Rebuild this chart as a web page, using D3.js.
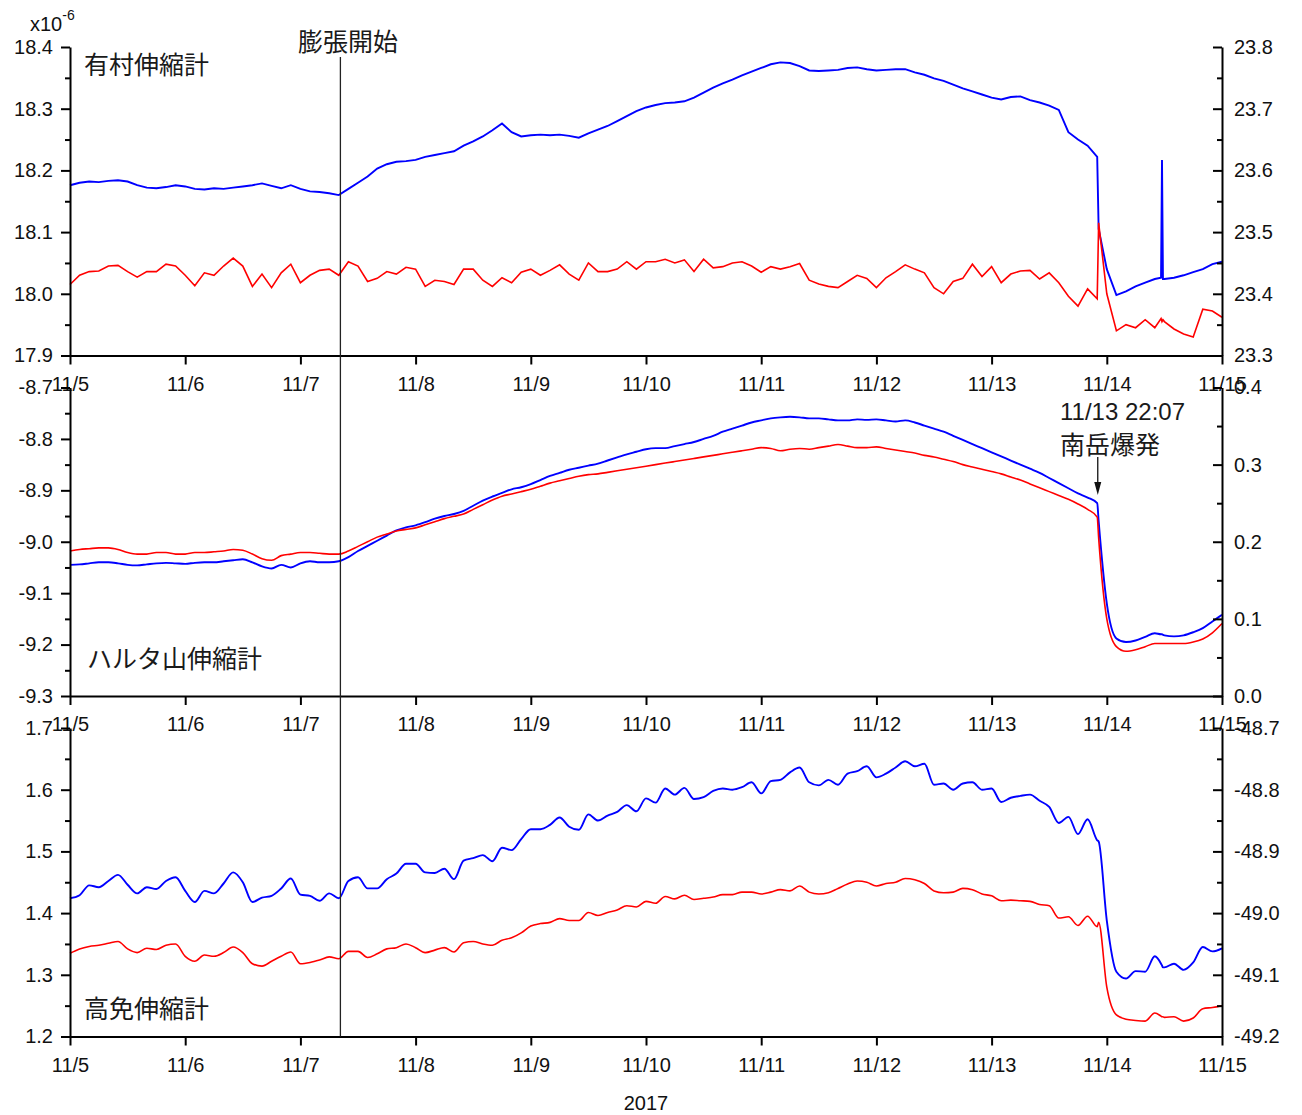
<!DOCTYPE html>
<html>
<head>
<meta charset="utf-8">
<script src="https://cdn.jsdelivr.net/npm/d3@7"></script>
<style>
  body { margin: 0; background: #fff; }
  .jp { font-family: "Noto Sans CJK JP", sans-serif; }
</style>
</head>
<body>
<svg id="chart" width="1302" height="1115"></svg>
<script>
// sample times, hours after 2017-11-05 00:00 (2 h steps, a few extra samples at the events)
const hours = [].concat(d3.range(0, 215, 2), [214.3], d3.range(216, 227, 2), [227.3, 227.5, 227.7], d3.range(228, 241, 2));

const dayLabels = ['11/5', '11/6', '11/7', '11/8', '11/9', '11/10', '11/11', '11/12', '11/13', '11/14', '11/15'];

// 有村伸縮計
const arimuraBlue = [
  18.176, 18.180, 18.182, 18.181, 18.183, 18.184, 18.182, 18.176, 18.172, 18.171,
  18.173, 18.176, 18.174, 18.170, 18.169, 18.171, 18.170, 18.172, 18.174, 18.176,
  18.179, 18.175, 18.171, 18.176, 18.170, 18.166, 18.165, 18.163, 18.160, 18.170,
  18.180, 18.190, 18.203, 18.210, 18.214, 18.215, 18.217, 18.222, 18.225, 18.228,
  18.231, 18.240, 18.247, 18.255, 18.265, 18.276, 18.262, 18.255, 18.257, 18.258,
  18.257, 18.258, 18.256, 18.253, 18.260, 18.266, 18.272, 18.280, 18.288, 18.296,
  18.302, 18.306, 18.309, 18.310, 18.312, 18.318, 18.326, 18.334, 18.341, 18.347,
  18.354, 18.360, 18.366, 18.372, 18.375, 18.374, 18.369, 18.362, 18.361, 18.362,
  18.363, 18.366, 18.367, 18.364, 18.362, 18.363, 18.364, 18.364, 18.359, 18.355,
  18.349, 18.345, 18.339, 18.333, 18.328, 18.323, 18.318, 18.315, 18.319, 18.320,
  18.314, 18.310, 18.305, 18.298, 18.262, 18.250, 18.240, 18.222,
  18.105,
  18.040, 17.998, 18.004, 18.012, 18.018, 18.024,
  18.026, 18.217, 18.024,
  18.024, 18.026, 18.030, 18.035, 18.040, 18.048, 18.052
];
const arimuraRed = [
  23.415, 23.430, 23.436, 23.437, 23.445, 23.446, 23.436, 23.427, 23.436, 23.436,
  23.448, 23.445, 23.430, 23.413, 23.434, 23.430, 23.445, 23.458, 23.445, 23.412,
  23.432, 23.410, 23.434, 23.448, 23.418, 23.430, 23.438, 23.440, 23.430, 23.452,
  23.445, 23.420, 23.425, 23.436, 23.432, 23.443, 23.440, 23.412, 23.422, 23.420,
  23.415, 23.440, 23.440, 23.422, 23.412, 23.426, 23.418, 23.435, 23.440, 23.430,
  23.438, 23.447, 23.432, 23.422, 23.450, 23.436, 23.436, 23.440, 23.452, 23.440,
  23.452, 23.452, 23.456, 23.450, 23.455, 23.436, 23.456, 23.442, 23.444, 23.450,
  23.452, 23.445, 23.435, 23.444, 23.440, 23.444, 23.449, 23.422, 23.416, 23.412,
  23.410, 23.420, 23.430, 23.425, 23.410, 23.426, 23.436, 23.447, 23.440, 23.434,
  23.410, 23.400, 23.420, 23.425, 23.448, 23.428, 23.444, 23.418, 23.432, 23.437,
  23.438, 23.424, 23.434, 23.418, 23.396, 23.380, 23.408, 23.392,
  23.515,
  23.400, 23.340, 23.350, 23.345, 23.358, 23.345,
  23.360, 23.355, 23.358,
  23.355, 23.343, 23.335, 23.330, 23.375, 23.372, 23.362
];

// ハルタ山伸縮計
const harutaBlue = [
  -9.045, -9.044, -9.042, -9.040, -9.040, -9.042, -9.045, -9.046, -9.044, -9.042,
  -9.041, -9.042, -9.043, -9.041, -9.040, -9.040, -9.038, -9.036, -9.034, -9.040,
  -9.048, -9.052, -9.045, -9.050, -9.042, -9.038, -9.040, -9.040, -9.038, -9.030,
  -9.018, -9.008, -8.998, -8.988, -8.978, -8.972, -8.968, -8.962, -8.955, -8.950,
  -8.946, -8.940, -8.930, -8.920, -8.912, -8.905, -8.898, -8.894, -8.888, -8.880,
  -8.872, -8.866, -8.860, -8.856, -8.852, -8.848, -8.842, -8.836, -8.830, -8.825,
  -8.820, -8.818, -8.818, -8.814, -8.810, -8.806, -8.800, -8.794, -8.786, -8.780,
  -8.774, -8.768, -8.764, -8.760, -8.758, -8.757, -8.758, -8.760, -8.760, -8.762,
  -8.764, -8.764, -8.762, -8.763, -8.762, -8.764, -8.766, -8.764, -8.768, -8.774,
  -8.780, -8.786, -8.794, -8.802, -8.810, -8.818, -8.826, -8.834, -8.842, -8.850,
  -8.858, -8.866, -8.876, -8.886, -8.896, -8.906, -8.914, -8.925,
  -8.960,
  -9.120, -9.188, -9.195, -9.192, -9.185, -9.178,
  -9.180, -9.180, -9.181,
  -9.182, -9.184, -9.182, -9.176, -9.168, -9.155, -9.142
];
const harutaRed = [
  0.188, 0.190, 0.191, 0.192, 0.192, 0.190, 0.186, 0.184, 0.184, 0.186,
  0.186, 0.184, 0.184, 0.186, 0.186, 0.187, 0.188, 0.190, 0.189, 0.184,
  0.178, 0.176, 0.182, 0.184, 0.186, 0.186, 0.185, 0.184, 0.184, 0.188,
  0.194, 0.200, 0.206, 0.210, 0.214, 0.216, 0.218, 0.222, 0.226, 0.230,
  0.233, 0.236, 0.242, 0.248, 0.254, 0.259, 0.262, 0.265, 0.268, 0.272,
  0.276, 0.279, 0.282, 0.285, 0.287, 0.288, 0.290, 0.292, 0.294, 0.296,
  0.298, 0.300, 0.302, 0.304, 0.306, 0.308, 0.310, 0.312, 0.314, 0.316,
  0.318, 0.320, 0.322, 0.321, 0.318, 0.320, 0.321, 0.320, 0.322, 0.324,
  0.326, 0.324, 0.322, 0.322, 0.323, 0.321, 0.319, 0.317, 0.315, 0.312,
  0.310, 0.307, 0.304, 0.300, 0.297, 0.294, 0.291, 0.288, 0.284, 0.280,
  0.275, 0.270, 0.265, 0.260, 0.255, 0.249, 0.242, 0.232,
  0.205,
  0.100, 0.064, 0.058, 0.060, 0.064, 0.068,
  0.068, 0.068, 0.068,
  0.068, 0.068, 0.068, 0.070, 0.074, 0.082, 0.094
];

// 高免伸縮計
const kominBlue = [
  1.424, 1.429, 1.445, 1.442, 1.452, 1.462, 1.446, 1.432, 1.442, 1.439,
  1.452, 1.458, 1.436, 1.418, 1.436, 1.432, 1.448, 1.466, 1.450, 1.418,
  1.425, 1.428, 1.440, 1.456, 1.430, 1.428, 1.420, 1.432, 1.424, 1.452,
  1.458, 1.440, 1.440, 1.455, 1.464, 1.480, 1.480, 1.466, 1.465, 1.472,
  1.455, 1.485, 1.489, 1.494, 1.484, 1.506, 1.502, 1.520, 1.536, 1.536,
  1.543, 1.555, 1.540, 1.535, 1.560, 1.550, 1.558, 1.564, 1.575, 1.565,
  1.586, 1.579, 1.602, 1.592, 1.603, 1.585, 1.588, 1.598, 1.602, 1.600,
  1.604, 1.612, 1.594, 1.614, 1.616, 1.628, 1.636, 1.612, 1.607, 1.616,
  1.608, 1.626, 1.630, 1.638, 1.620, 1.626, 1.636, 1.646, 1.638, 1.642,
  1.608, 1.610, 1.600, 1.610, 1.612, 1.600, 1.602, 1.580, 1.587, 1.590,
  1.592, 1.582, 1.572, 1.546, 1.556, 1.528, 1.552, 1.518,
  1.516,
  1.388, 1.305, 1.294, 1.306, 1.305, 1.330,
  1.318, 1.315, 1.312,
  1.312, 1.318, 1.308, 1.320, 1.345, 1.338, 1.343
];
const kominRed = [
  -49.065, -49.058, -49.054, -49.052, -49.049, -49.046, -49.058, -49.064, -49.057, -49.059,
  -49.052, -49.050, -49.070, -49.078, -49.068, -49.070, -49.064, -49.055, -49.064, -49.082,
  -49.086, -49.078, -49.070, -49.063, -49.082, -49.080, -49.076, -49.071, -49.074, -49.062,
  -49.062, -49.072, -49.066, -49.058, -49.056, -49.050, -49.056, -49.064, -49.060, -49.056,
  -49.063, -49.048, -49.046, -49.050, -49.052, -49.044, -49.040, -49.032, -49.021, -49.017,
  -49.015, -49.009, -49.012, -49.012, -48.999, -49.004, -48.999, -48.995, -48.988, -48.990,
  -48.981, -48.984, -48.973, -48.977, -48.971, -48.978, -48.976, -48.974, -48.970, -48.970,
  -48.966, -48.966, -48.969, -48.966, -48.962, -48.964, -48.956, -48.966, -48.969, -48.967,
  -48.960, -48.953, -48.948, -48.950, -48.956, -48.952, -48.950, -48.944, -48.946, -48.952,
  -48.964, -48.967, -48.966, -48.960, -48.962, -48.969, -48.972, -48.980, -48.979, -48.980,
  -48.981, -48.986, -48.988, -49.008, -49.006, -49.020, -49.005, -49.022,
  -49.015,
  -49.120, -49.165, -49.172, -49.174, -49.175, -49.162,
  -49.167, -49.168, -49.168,
  -49.169, -49.168, -49.175, -49.170, -49.155, -49.153, -49.150
];

const arimuraLeftTicks = [17.9, 18.0, 18.1, 18.2, 18.3, 18.4];
const arimuraRightTicks = [23.3, 23.4, 23.5, 23.6, 23.7, 23.8];
const harutaLeftTicks = [-9.3, -9.2, -9.1, -9.0, -8.9, -8.8, -8.7];
const harutaRightTicks = [0.0, 0.1, 0.2, 0.3, 0.4];
const kominLeftTicks = [1.2, 1.3, 1.4, 1.5, 1.6, 1.7];
const kominRightTicks = [-49.2, -49.1, -49.0, -48.9, -48.8, -48.7];

const start = new Date(2017, 10, 5);
const end = new Date(2017, 10, 15);
const expansionStart = new Date(2017, 10, 7, 8, 20);
const eruption = new Date(2017, 10, 13, 22, 7);

const toTime = h => new Date(start.getTime() + h * 3600e3);

const panels = [
  {name: '有村伸縮計', blue: arimuraBlue, red: arimuraRed, left: arimuraLeftTicks, right: arimuraRightTicks,
    top: 47, labelX: 84, labelY: 74, curve: d3.curveLinear},
  {name: 'ハルタ山伸縮計', blue: harutaBlue, red: harutaRed, left: harutaLeftTicks, right: harutaRightTicks,
    top: 387.5, labelX: 87, labelY: 668, curve: d3.curveMonotoneX},
  {name: '高免伸縮計', blue: kominBlue, red: kominRed, left: kominLeftTicks, right: kominRightTicks,
    top: 728, labelX: 84, labelY: 1018, curve: d3.curveMonotoneX}
];

const svg = d3.select('#chart');
const plotLeft = 70, plotRight = 1222, panelH = 308.5;
const x = d3.scaleTime().domain([start, end]).range([plotLeft, plotRight]);
const dayTicks = dayLabels.map((d, i) => d3.timeDay.offset(start, i));
const fmt = v => v.toFixed(1);

function midpoints(ticks) {
  return ticks.slice(1).map((t, i) => (t + ticks[i]) / 2);
}

function styleAxis(g) {
  g.attr('font-family', '"Liberation Sans", Arial, sans-serif').attr('font-size', 20);
  g.selectAll('path, line').attr('stroke', '#000').attr('stroke-width', 2);
  g.selectAll('text').attr('fill', '#111');
}

panels.forEach(p => {
  if (p.blue.length !== hours.length || p.red.length !== hours.length) {
    throw new Error(p.name + ' length ' + p.blue.length + '/' + p.red.length + ' vs ' + hours.length);
  }
  const bottom = p.top + panelH;
  const yL = d3.scaleLinear().domain(d3.extent(p.left)).range([bottom, p.top]);
  const yR = d3.scaleLinear().domain(d3.extent(p.right)).range([bottom, p.top]);
  const g = svg.append('g');

  const blueLine = d3.line().curve(p.curve).x((d, i) => x(toTime(hours[i]))).y(d => yL(d));
  const redLine = d3.line().curve(p.curve).x((d, i) => x(toTime(hours[i]))).y(d => yR(d));

  g.append('path').datum(p.blue)
    .attr('d', blueLine)
    .attr('fill', 'none')
    .attr('stroke', '#0000ff')
    .attr('stroke-width', 1.9);

  g.append('path').datum(p.red)
    .attr('d', redLine)
    .attr('fill', 'none')
    .attr('stroke', '#ff0000')
    .attr('stroke-width', 1.6);

  // left axis, ticks outward
  g.append('g').attr('transform', `translate(${plotLeft},0)`)
    .call(d3.axisLeft(yL).tickValues(p.left).tickSize(9).tickSizeOuter(0).tickPadding(8).tickFormat(fmt))
    .call(styleAxis);
  g.append('g').attr('transform', `translate(${plotLeft},0)`)
    .call(d3.axisLeft(yL).tickValues(midpoints(p.left)).tickSize(5).tickFormat(''))
    .call(a => a.select('.domain').remove())
    .call(styleAxis);

  // right axis, ticks inward
  g.append('g').attr('transform', `translate(${plotRight},0)`)
    .call(d3.axisRight(yR).tickValues(p.right).tickSizeInner(-9).tickSizeOuter(0).tickPadding(12).tickFormat(fmt))
    .call(styleAxis);
  g.append('g').attr('transform', `translate(${plotRight},0)`)
    .call(d3.axisRight(yR).tickValues(midpoints(p.right)).tickSizeInner(-5).tickSizeOuter(0).tickFormat(''))
    .call(a => a.select('.domain').remove())
    .call(styleAxis);

  // time axis
  g.append('g').attr('transform', `translate(0,${bottom})`)
    .call(d3.axisBottom(x).tickValues(dayTicks).tickSize(9).tickSizeOuter(0).tickPadding(12)
      .tickFormat((d, i) => dayLabels[i]))
    .call(styleAxis);

  g.append('text')
    .attr('class', 'jp')
    .attr('x', p.labelX)
    .attr('y', p.labelY)
    .attr('font-size', 25)
    .attr('fill', '#1a1a1a')
    .text(p.name);
});

// expansion start marker
svg.append('line')
  .attr('x1', x(expansionStart)).attr('x2', x(expansionStart))
  .attr('y1', 57).attr('y2', 728 + panelH)
  .attr('stroke', '#222')
  .attr('stroke-width', 1.3);

svg.append('text')
  .attr('class', 'jp')
  .attr('x', 298).attr('y', 51)
  .attr('font-size', 25)
  .attr('fill', '#1a1a1a')
  .text('膨張開始');

// eruption annotation
const ex = x(eruption);
svg.append('text')
  .attr('x', 1060).attr('y', 420)
  .attr('font-family', '"Liberation Sans", Arial, sans-serif')
  .attr('font-size', 24)
  .attr('fill', '#1a1a1a')
  .text('11/13 22:07');
svg.append('text')
  .attr('class', 'jp')
  .attr('x', 1060).attr('y', 454)
  .attr('font-size', 25)
  .attr('fill', '#1a1a1a')
  .text('南岳爆発');
svg.append('line')
  .attr('x1', ex).attr('x2', ex)
  .attr('y1', 457).attr('y2', 484)
  .attr('stroke', '#111')
  .attr('stroke-width', 1.3);
svg.append('path')
  .attr('d', `M${ex - 3.5},482 L${ex + 3.5},482 L${ex},495 Z`)
  .attr('fill', '#111');

// unit label
const unit = svg.append('text')
  .attr('x', 30).attr('y', 31)
  .attr('font-family', '"Liberation Sans", Arial, sans-serif')
  .attr('font-size', 20)
  .attr('fill', '#111')
  .text('x10');
unit.append('tspan')
  .attr('dy', -11)
  .attr('font-size', 14)
  .text('-6');

svg.append('text')
  .attr('x', 646).attr('y', 1110)
  .attr('text-anchor', 'middle')
  .attr('font-family', '"Liberation Sans", Arial, sans-serif')
  .attr('font-size', 20)
  .attr('fill', '#111')
  .text('2017');
</script>
</body>
</html>
